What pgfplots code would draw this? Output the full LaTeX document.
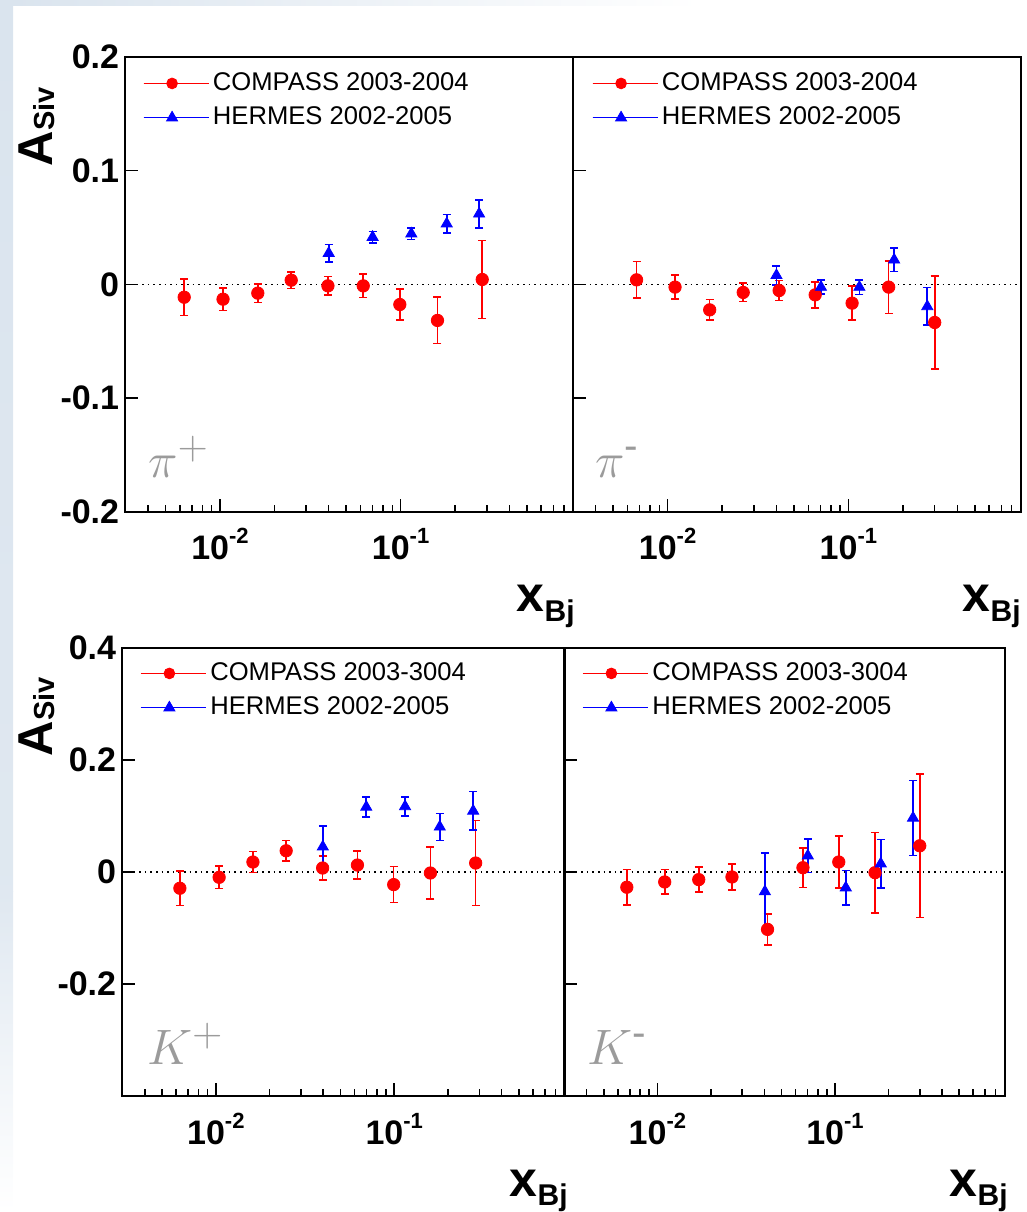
\documentclass[border=0pt]{standalone}
\usepackage{fontspec}
\setmainfont{Liberation Sans}
\usepackage{pgfplots}
\pgfplotsset{compat=1.18}
\usepackage{pgfplotstable}

\definecolor{bgstrip}{RGB}{218,228,238}
\definecolor{lblgray}{RGB}{155,155,155}

\newcommand\xlab[1]{\fontsize{17}{17}\bfseries 10\raisebox{8pt}{\fontsize{11}{11}\bfseries #1}}
\newcommand\ylab[1]{\fontsize{17}{17}\bfseries #1}

% pi+ panel
\pgfplotstableread{
x y e
0.00634 -0.0112 0.016
0.0104 -0.0129 0.010
0.0162 -0.0076 0.0082
0.0248 0.0038 0.0072
0.0396 -0.0012 0.0082
0.0621 -0.0012 0.0103
0.099 -0.0176 0.0138
0.160 -0.0316 0.0204
0.283 0.0044 0.0343
}\CPpip
\pgfplotstableread{
x y e
0.040 0.0275 0.0076
0.070 0.0416 0.005
0.1146 0.0446 0.005
0.180 0.0534 0.008
0.272 0.0621 0.0124
}\HEpip
% pi- panel
\pgfplotstableread{
x y e
0.00674 0.0041 0.016
0.0110 -0.0023 0.0106
0.0171 -0.0223 0.009
0.0262 -0.0070 0.0081
0.0414 -0.0053 0.0088
0.0655 -0.0091 0.0113
0.1048 -0.0164 0.015
0.167 -0.0023 0.0232
0.300 -0.0334 0.041
}\CPpim
\pgfplotstableread{
x y e
0.040 0.008 0.0082
0.0705 -0.0023 0.006
0.115 -0.0023 0.0065
0.179 0.0217 0.0103
0.273 -0.0193 0.0165
}\HEpim
% K+ panel
\pgfplotstableread{
x y e
0.00629 -0.029 0.0305
0.01044 -0.0095 0.020
0.01615 0.0178 0.019
0.0248 0.0379 0.0187
0.0397 0.0071 0.0216
0.0622 0.0124 0.025
0.0993 -0.0225 0.032
0.1595 -0.0018 0.0465
0.286 0.016 0.076
}\CPkp
\pgfplotstableread{
x y e
0.0398 0.045 0.037
0.0697 0.116 0.018
0.115 0.117 0.017
0.180 0.0806 0.024
0.277 0.109 0.0344
}\HEkp
% K- panel
\pgfplotstableread{
x y e
0.00673 -0.0272 0.032
0.0110 -0.0178 0.022
0.0171 -0.0136 0.022
0.0263 -0.0089 0.023
0.0417 -0.1025 0.028
0.066 0.0077 0.0356
0.105 0.0178 0.0465
0.168 -0.0012 0.072
0.30 0.0468 0.128
}\CPkm
\pgfplotstableread{
x y e
0.0403 -0.035 0.069
0.0703 0.029 0.030
0.115 -0.028 0.031
0.181 0.0148 0.0435
0.275 0.0966 0.067
}\HEkm

\newcommand\cpimg{\path (0pt,0pt) -- (32.5pt,0pt);
    \draw[red, line width=0.6pt] (0pt,0pt) -- (28.5pt,0pt);
    \fill[red] (14.25pt,0pt) circle (2.7pt);}
\newcommand\heimg{\path (0pt,0pt) -- (32.5pt,0pt);
    \draw[blue, line width=0.6pt] (0pt,0pt) -- (28.5pt,0pt);
    \fill[blue] (14.25pt,3pt) -- (11.5pt,-1.8pt) -- (17pt,-1.8pt) -- cycle;}

\newcommand\asiv{{\fontsize{24.5}{25}\bfseries A}\raisebox{-1pt}{\fontsize{14.5}{15}\bfseries Siv}}
\newcommand\xbj{{\fontsize{25}{25}\bfseries x}\raisebox{-5pt}{\fontsize{15}{15}\bfseries Bj}}

\begin{document}
\begin{tikzpicture}
\path[use as bounding box] (0,0) rectangle (513.5pt,606pt);
% slide background strips
\shade[top color=bgstrip!85, bottom color=white] (0,0) rectangle (6.5pt,160pt);
\shade[top color=bgstrip, bottom color=bgstrip!85] (0,160pt) rectangle (6.5pt,606pt);
\shade[left color=bgstrip, right color=white] (6.5pt,603.3pt) rectangle (350pt,606pt);

% ---------- top left: pi+
\begin{axis}[scale only axis, anchor=south west, at={(62.75pt,350pt)}, width=223.75pt, height=227.5pt,
    xmode=log, xmin=0.003, xmax=0.9,
    axis line style={line width=1pt},
    tick style={black, line width=0.75pt},
    tick align=inside, xtick pos=left, ytick pos=left,
    xtick={0.01,0.1}, xticklabels={\xlab{-2},\xlab{-1}},
    minor xtick={0.004,0.005,0.006,0.007,0.008,0.009,0.02,0.03,0.04,0.05,0.06,0.07,0.08,0.09,0.2,0.3,0.4,0.5,0.6,0.7,0.8},
    major tick length=6.5pt, minor tick length=3.5pt,
    xticklabel style={anchor=base, yshift=-24pt, inner sep=0pt},
    yticklabel style={anchor=east, inner sep=0pt, xshift=-3pt},
    legend style={draw=none, fill=none, at={(0,1)}, anchor=north west,
      xshift=8.75pt, yshift=-6pt, inner sep=0pt, outer sep=0pt,
      font=\fontsize{12.8}{13}\selectfont, row sep=2.5pt},
    legend cell align=left,
  ymin=-0.2, ymax=0.2, ytick={-0.2,-0.1,0,0.1,0.2},
  yticklabels={\ylab{-0.2},\ylab{-0.1},\ylab{0},\ylab{0.1},\ylab{0.2}}]
\addplot[black, dotted, line width=0.8pt, forget plot] coordinates {(0.003,0) (0.9,0)};
\addplot[only marks, red, mark=*, mark size=3.1pt, legend image code/.code={\cpimg},
  error bars/.cd, y dir=both, y explicit, error bar style={red, line width=0.8pt},
  error mark options={red, line width=0.8pt, mark size=2pt, rotate=90}]
  table[x=x, y=y, y error=e] {\CPpip};
\addlegendentry{COMPASS 2003-2004}
\addplot[only marks, blue, mark=triangle*, mark size=3.2pt, legend image code/.code={\heimg},
  error bars/.cd, y dir=both, y explicit, error bar style={blue, line width=0.8pt},
  error mark options={blue, line width=0.8pt, mark size=2pt, rotate=90}]
  table[x=x, y=y, y error=e] {\HEpip};
\addlegendentry{HERMES 2002-2005}
\end{axis}

% ---------- top right: pi-
\begin{axis}[scale only axis, anchor=south west, at={(286.5pt,350pt)}, width=224pt, height=227.5pt,
    xmode=log, xmin=0.003, xmax=0.9,
    axis line style={line width=1pt},
    tick style={black, line width=0.75pt},
    tick align=inside, xtick pos=left, ytick pos=left,
    xtick={0.01,0.1}, xticklabels={\xlab{-2},\xlab{-1}},
    minor xtick={0.004,0.005,0.006,0.007,0.008,0.009,0.02,0.03,0.04,0.05,0.06,0.07,0.08,0.09,0.2,0.3,0.4,0.5,0.6,0.7,0.8},
    major tick length=6.5pt, minor tick length=3.5pt,
    xticklabel style={anchor=base, yshift=-24pt, inner sep=0pt},
    legend style={draw=none, fill=none, at={(0,1)}, anchor=north west,
      xshift=9.5pt, yshift=-6pt, inner sep=0pt, outer sep=0pt,
      font=\fontsize{12.8}{13}\selectfont, row sep=2.5pt},
    legend cell align=left,
  ymin=-0.2, ymax=0.2, ytick={-0.2,-0.1,0,0.1,0.2}, yticklabels={}]
\addplot[black, dotted, line width=0.8pt, forget plot] coordinates {(0.003,0) (0.9,0)};
\addplot[only marks, red, mark=*, mark size=3.1pt, legend image code/.code={\cpimg},
  error bars/.cd, y dir=both, y explicit, error bar style={red, line width=0.8pt},
  error mark options={red, line width=0.8pt, mark size=2pt, rotate=90}]
  table[x=x, y=y, y error=e] {\CPpim};
\addlegendentry{COMPASS 2003-2004}
\addplot[only marks, blue, mark=triangle*, mark size=3.2pt, legend image code/.code={\heimg},
  error bars/.cd, y dir=both, y explicit, error bar style={blue, line width=0.8pt},
  error mark options={blue, line width=0.8pt, mark size=2pt, rotate=90}]
  table[x=x, y=y, y error=e] {\HEpim};
\addlegendentry{HERMES 2002-2005}
\end{axis}

% ---------- bottom left: K+
\begin{axis}[scale only axis, anchor=south west, at={(61.25pt,58pt)}, width=221pt, height=224pt,
    xmode=log, xmin=0.003, xmax=0.9,
    axis line style={line width=1pt},
    tick style={black, line width=0.75pt},
    tick align=inside, xtick pos=left, ytick pos=left,
    xtick={0.01,0.1}, xticklabels={\xlab{-2},\xlab{-1}},
    minor xtick={0.004,0.005,0.006,0.007,0.008,0.009,0.02,0.03,0.04,0.05,0.06,0.07,0.08,0.09,0.2,0.3,0.4,0.5,0.6,0.7,0.8},
    major tick length=6.5pt, minor tick length=3.5pt,
    xticklabel style={anchor=base, yshift=-24pt, inner sep=0pt},
    yticklabel style={anchor=east, inner sep=0pt, xshift=-3pt},
    legend style={draw=none, fill=none, at={(0,1)}, anchor=north west,
      xshift=8.9pt, yshift=-5.5pt, inner sep=0pt, outer sep=0pt,
      font=\fontsize{12.8}{13}\selectfont, row sep=2.5pt},
    legend cell align=left,
  ymin=-0.4, ymax=0.4, ytick={-0.2,0,0.2,0.4},
  yticklabels={\ylab{-0.2},\ylab{0},\ylab{0.2},\ylab{0.4}}]
\addplot[black, dotted, line width=0.8pt, forget plot] coordinates {(0.003,0) (0.9,0)};
\addplot[only marks, red, mark=*, mark size=3.1pt, legend image code/.code={\cpimg},
  error bars/.cd, y dir=both, y explicit, error bar style={red, line width=0.8pt},
  error mark options={red, line width=0.8pt, mark size=2pt, rotate=90}]
  table[x=x, y=y, y error=e] {\CPkp};
\addlegendentry{COMPASS 2003-3004}
\addplot[only marks, blue, mark=triangle*, mark size=3.2pt, legend image code/.code={\heimg},
  error bars/.cd, y dir=both, y explicit, error bar style={blue, line width=0.8pt},
  error mark options={blue, line width=0.8pt, mark size=2pt, rotate=90}]
  table[x=x, y=y, y error=e] {\HEkp};
\addlegendentry{HERMES 2002-2005}
\end{axis}

% ---------- bottom right: K-
\begin{axis}[scale only axis, anchor=south west, at={(282.25pt,58pt)}, width=220pt, height=224pt,
    xmode=log, xmin=0.003, xmax=0.9,
    axis line style={line width=1pt},
    tick style={black, line width=0.75pt},
    tick align=inside, xtick pos=left, ytick pos=left,
    xtick={0.01,0.1}, xticklabels={\xlab{-2},\xlab{-1}},
    minor xtick={0.004,0.005,0.006,0.007,0.008,0.009,0.02,0.03,0.04,0.05,0.06,0.07,0.08,0.09,0.2,0.3,0.4,0.5,0.6,0.7,0.8},
    major tick length=6.5pt, minor tick length=3.5pt,
    xticklabel style={anchor=base, yshift=-24pt, inner sep=0pt},
    legend style={draw=none, fill=none, at={(0,1)}, anchor=north west,
      xshift=8.9pt, yshift=-5.5pt, inner sep=0pt, outer sep=0pt,
      font=\fontsize{12.8}{13}\selectfont, row sep=2.5pt},
    legend cell align=left,
  ymin=-0.4, ymax=0.4, ytick={-0.2,0,0.2}, yticklabels={}]
\addplot[black, dotted, line width=0.8pt, forget plot] coordinates {(0.003,0) (0.9,0)};
\addplot[only marks, red, mark=*, mark size=3.1pt, legend image code/.code={\cpimg},
  error bars/.cd, y dir=both, y explicit, error bar style={red, line width=0.8pt},
  error mark options={red, line width=0.8pt, mark size=2pt, rotate=90}]
  table[x=x, y=y, y error=e] {\CPkm};
\addlegendentry{COMPASS 2003-3004}
\addplot[only marks, blue, mark=triangle*, mark size=3.2pt, legend image code/.code={\heimg},
  error bars/.cd, y dir=both, y explicit, error bar style={blue, line width=0.8pt},
  error mark options={blue, line width=0.8pt, mark size=2pt, rotate=90}]
  table[x=x, y=y, y error=e] {\HEkm};
\addlegendentry{HERMES 2002-2005}
\end{axis}

% axis titles
\node[rotate=90, anchor=base east, inner sep=0pt] at (26.5pt,562.5pt) {\asiv};
\node[rotate=90, anchor=base east, inner sep=0pt] at (26.5pt,267.5pt) {\asiv};
\node[anchor=base east, inner sep=0pt] at (287.5pt,300pt) {\xbj};
\node[anchor=base east, inner sep=0pt] at (510.5pt,300pt) {\xbj};
\node[anchor=base east, inner sep=0pt] at (284pt,8pt) {\xbj};
\node[anchor=base east, inner sep=0pt] at (504pt,8pt) {\xbj};

% panel labels
\node[lblgray, anchor=base west, inner sep=0pt, font=\fontsize{29}{29}\selectfont] at (74pt,367pt) {$\pi^{+}$};
\node[lblgray, anchor=base west, inner sep=0pt, font=\fontsize{29}{29}\selectfont] at (297.5pt,367pt) {$\pi$\textsuperscript{-}};
\node[lblgray, anchor=base west, inner sep=0pt, font=\fontsize{29}{29}\selectfont] at (73.5pt,73.5pt) {$K^{+}$};
\node[lblgray, anchor=base west, inner sep=0pt, font=\fontsize{29}{29}\selectfont] at (293.5pt,73.5pt) {$K$\textsuperscript{-}};
\end{tikzpicture}
\end{document}
